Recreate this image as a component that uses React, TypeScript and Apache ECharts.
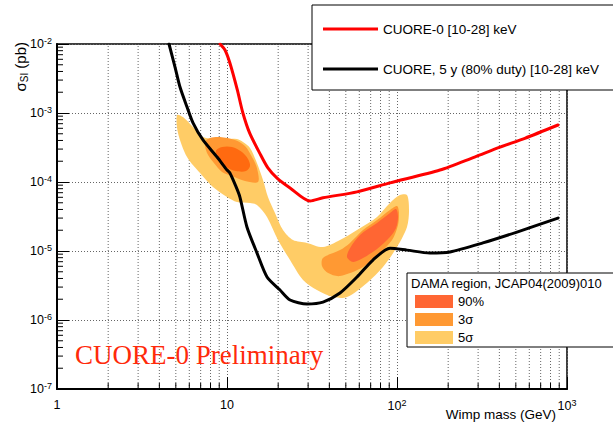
import { useEffect, useRef } from 'react';
import * as echarts from 'echarts';

// Axis ranges
const xMin = 1;
const xMax = 1000;
const yMin = 1e-7;
const yMax = 1e-2;

// CUORE-0 [10-28] keV (red)
const redMass = [9.1, 9.73, 10.4, 11.5, 12.4, 13.6, 15.6, 17.4, 19.7, 23.5, 30.8, 36.7, 58.2, 91, 179, 286, 404, 565, 885];
const redSigma = [1e-2, 8.2e-3, 5.3e-3, 2.16e-3, 1e-3, 5.1e-4, 2.6e-4, 1.6e-4, 1.14e-4, 8.2e-5, 5.3e-5, 5.9e-5, 7.2e-5, 9.7e-5, 1.49e-4, 2.3e-4, 3.2e-4, 4.3e-4, 6.7e-4];

// CUORE 5 y (black)
const blackMass = [4.56, 4.95, 5.29, 5.82, 6.31, 7.22, 8.74, 10, 10.4, 11.2, 11.9, 13.1, 15.0, 17.2, 20.5, 23.5, 29.6, 36.7, 46.2, 58.2, 72.2, 91, 114.5, 156, 205, 320, 508, 885];
const blackSigma = [1e-2, 4.6e-3, 2.38e-3, 1.22e-3, 7.2e-4, 4.07e-4, 2.3e-4, 1.49e-4, 1.35e-4, 9e-5, 6.1e-5, 2.23e-5, 9.4e-6, 4.2e-6, 2.72e-6, 1.95e-6, 1.71e-6, 1.82e-6, 2.46e-6, 4.2e-6, 7.4e-6, 1.1e-5, 1.03e-5, 9.35e-6, 9.7e-6, 1.31e-5, 1.88e-5, 3.0e-5];

// DAMA regions (mass GeV, sigma pb) contour vertices
const dama5sigma: number[][] = [
  [5.08, 9.35e-4], [5.51, 8.75e-4], [6.31, 6.27e-4], [7.22, 4.49e-4], [8.73, 4.2e-4], [11.45, 4.2e-4],
  [12.42, 3.8e-4], [13.66, 3.11e-4], [15.0, 1.88e-4], [16.28, 1.07e-4], [17.42, 6.07e-5], [19.16, 3.56e-5],
  [21.35, 2.01e-5], [24.45, 1.44e-5], [29.55, 1.31e-5], [36.7, 1.14e-5], [46.2, 1.44e-5], [58.2, 2.01e-5],
  [76.3, 3.11e-5], [90.9, 4.96e-5], [104, 6.48e-5], [114.5, 6.48e-5], [117.7, 3.93e-5], [114.5, 2.23e-5],
  [100, 1.14e-5], [82.7, 5.86e-6], [66.6, 3.44e-6], [50.8, 2.15e-6], [42.0, 2.15e-6], [33.8, 2.72e-6],
  [28.0, 3.8e-6], [23.48, 7.4e-6], [19.95, 1.44e-5], [17.19, 3.11e-5], [15.0, 4.64e-5], [13.66, 4.96e-5],
  [11.45, 5.13e-5], [10, 6.07e-5], [8.27, 8.47e-5], [6.94, 1.35e-4], [5.82, 2.3e-4], [5.15, 5.13e-4],
];
const dama3sigmaLow: number[][] = [
  [7.42, 3.8e-4], [7.94, 4.34e-4], [9.1, 4.49e-4], [11.14, 4.06e-4], [12.76, 3.32e-4], [14.03, 2.3e-4],
  [15.0, 1.6e-4], [15.22, 1.0e-4], [12.76, 1.03e-4], [10.7, 1.22e-4], [9.35, 1.4e-4], [8.38, 1.88e-4], [7.63, 2.63e-4],
];
const dama3sigmaHigh: number[][] = [
  [36.7, 7.92e-6], [46.2, 1.03e-5], [52.9, 1.31e-5], [63.1, 2.01e-5], [76.3, 2.81e-5], [90.9, 3.93e-5],
  [100, 4.49e-5], [102.7, 3.67e-5], [101.4, 2.38e-5], [93.5, 1.44e-5], [79.4, 9.35e-6], [63.1, 5.86e-6],
  [46.2, 4.34e-6], [39.3, 4.8e-6], [36.2, 6.07e-6],
];
const dama90Low: number[][] = [
  [8.61, 2.81e-4], [9.35, 3.21e-4], [10.7, 3.21e-4], [12.25, 2.72e-4], [13.29, 2.16e-4], [13.66, 1.71e-4],
  [12.93, 1.44e-4], [11.29, 1.44e-4], [9.86, 1.65e-4], [8.97, 2.01e-4],
];
const dama90High: number[][] = [
  [50.8, 8.18e-6], [52.9, 1.1e-5], [60.6, 1.71e-5], [76.3, 2.55e-5], [90.9, 3.56e-5], [98.7, 4.06e-5],
  [101.4, 3.11e-5], [98.7, 2.16e-5], [90.9, 1.6e-5], [76.3, 1.07e-5], [63.1, 7.92e-6], [55.1, 6.93e-6],
];

const nameRed = 'CUORE-0 [10-28] keV';
const nameBlack = 'CUORE, 5 y (80% duty) [10-28] keV';
const damaNames = ['90%', '3σ', '5σ'];
const damaColors = ['#FF6633', '#FF9933', '#FFCC66'];

const FONT = 'Liberation Sans, Arial, Helvetica, sans-serif';

function minorValues(lo: number, hi: number): number[] {
  const out: number[] = [];
  for (let d = lo; d < hi; d *= 10) {
    for (let k = 2; k <= 9; k++) out.push(Math.round(k * d * 1e12) / 1e12);
  }
  return out;
}

function polygonSeries(name: string, pts: number[][], color: string) {
  return {
    type: 'custom',
    name,
    coordinateSystem: 'cartesian2d',
    silent: true,
    itemStyle: { color },
    data: pts,
    renderItem: (params: any, api: any) => {
      if (params.dataIndex !== 0) return null;
      const points = pts.map((p) => api.coord(p));
      return {
        type: 'polygon',
        shape: { points, smooth: 0.3 },
        style: { fill: color, stroke: null },
      };
    },
    z: 1,
  };
}

export default function App() {
  const ref = useRef<HTMLDivElement>(null);
  useEffect(() => {
    if (!ref.current) return;
    const chart = echarts.init(ref.current, undefined, { renderer: 'svg' });
    const xMinor = minorValues(xMin, xMax);
    const yMinor = minorValues(yMin, yMax);
    const supFmt = (v: number) => {
      const e = Math.round(Math.log10(v));
      if (e === 0) return '1';
      if (e === 1) return '10';
      return `{b|10}{s|${e}}`;
    };
    const rich = {
      b: { fontSize: 12.5, fontFamily: FONT, color: '#000', lineHeight: 16 },
      s: { fontSize: 9, fontFamily: FONT, color: '#000', verticalAlign: 'top', lineHeight: 10 },
    };
    const gridStyle = { color: '#666', width: 1, type: [1, 2] };
    const option: any = {
      animation: false,
      backgroundColor: '#fff',
      grid: { left: 57, top: 44, right: 46, bottom: 34, show: true, borderColor: '#000', borderWidth: 1.5 },
      xAxis: {
        type: 'log',
        logBase: 10,
        min: xMin,
        max: xMax,
        axisLine: { show: true, lineStyle: { color: '#000', width: 2 } },
        axisTick: { show: true, inside: true, length: 12, lineStyle: { color: '#000', width: 1 } },
        axisLabel: { formatter: supFmt, rich, fontSize: 12.5, fontFamily: FONT, color: '#000', margin: 9 },
        splitLine: { show: true, lineStyle: gridStyle },
      },
      yAxis: {
        type: 'log',
        logBase: 10,
        min: yMin,
        max: yMax,
        axisLine: { show: true, lineStyle: { color: '#000', width: 2 } },
        axisTick: { show: true, inside: true, length: 12, lineStyle: { color: '#000', width: 1 } },
        axisLabel: {
          formatter: (v: number) => `{b|10}{s|${Math.round(Math.log10(v))}}`,
          rich,
          fontSize: 12.5,
          fontFamily: FONT,
          color: '#000',
          margin: 5,
        },
        splitLine: { show: true, lineStyle: gridStyle },
      },
      legend: [
        {
          data: [nameRed, nameBlack],
          orient: 'vertical',
          left: 312,
          top: 5,
          icon: 'rect',
          itemWidth: 55,
          itemHeight: 3,
          itemGap: 24,
          padding: [16, 60, 13, 11],
          borderColor: '#000',
          borderWidth: 1,
          backgroundColor: '#fff',
          selectedMode: false,
          textStyle: { fontSize: 13.5, fontFamily: FONT, color: '#000', lineHeight: 16 },
        },
        {
          data: damaNames.map((n, i) => ({ name: n, itemStyle: { color: damaColors[i] } })),
          orient: 'vertical',
          left: 407,
          top: 273,
          icon: 'rect',
          itemWidth: 38,
          itemHeight: 13,
          itemGap: 5,
          padding: [22, 140, 3, 8],
          borderColor: '#000',
          borderWidth: 1,
          backgroundColor: '#fff',
          selectedMode: false,
          textStyle: { fontSize: 13, fontFamily: FONT, color: '#000', lineHeight: 13 },
        },
      ],
      graphic: [
        {
          type: 'text',
          z: 100,
          x: 411,
          y: 283,
          style: { text: 'DAMA region, JCAP04(2009)010', fontSize: 13, fontFamily: FONT, fill: '#000', verticalAlign: 'middle' },
        },
        {
          type: 'text',
          z: 100,
          x: 75,
          y: 355,
          style: { text: 'CUORE-0 Preliminary', fontSize: 27, fontFamily: 'Liberation Serif, Times New Roman, serif', fill: '#FF2A0A', verticalAlign: 'middle' },
        },
        {
          type: 'text',
          z: 100,
          x: 556,
          y: 414,
          style: { text: 'Wimp mass (GeV)', fontSize: 13.5, fontFamily: FONT, fill: '#000', align: 'right', verticalAlign: 'middle' },
        },
        {
          type: 'text',
          z: 100,
          x: 20,
          y: 42,
          rotation: Math.PI / 2,
          style: {
            text: '{a|σ}{c|SI}{a| (pb)}',
            align: 'right',
            verticalAlign: 'middle',
            rich: {
              a: { fontSize: 15, fontFamily: FONT, fill: '#000', color: '#000', lineHeight: 18 },
              c: { fontSize: 10, fontFamily: FONT, fill: '#000', color: '#000', verticalAlign: 'bottom', lineHeight: 18 },
            },
          },
        },
      ],
      series: [
        {
          type: 'custom',
          name: 'xminor',
          coordinateSystem: 'cartesian2d',
          silent: true,
          data: xMinor.map((v) => [v, yMin]),
          renderItem: (params: any, api: any) => {
            const v = api.value(0);
            const b = api.coord([v, yMin]);
            const t = api.coord([v, yMax]);
            return {
              type: 'group',
              children: [
                { type: 'line', shape: { x1: b[0], y1: b[1], x2: t[0], y2: t[1] }, style: { stroke: '#666', lineWidth: 1, lineDash: [1, 2] } },
                { type: 'line', shape: { x1: b[0], y1: b[1], x2: b[0], y2: b[1] - 6 }, style: { stroke: '#000', lineWidth: 1 } },
              ],
            };
          },
          z: 0,
        },
        {
          type: 'custom',
          name: 'yminor',
          coordinateSystem: 'cartesian2d',
          silent: true,
          data: yMinor.map((v) => [xMin, v]),
          renderItem: (params: any, api: any) => {
            const v = api.value(1);
            const p = api.coord([xMin, v]);
            return { type: 'line', shape: { x1: p[0], y1: p[1], x2: p[0] + 6, y2: p[1] }, style: { stroke: '#000', lineWidth: 1 } };
          },
          z: 0,
        },
        polygonSeries('5σ', dama5sigma, damaColors[2]),
        polygonSeries('3σ', dama3sigmaLow, damaColors[1]),
        polygonSeries('3σ', dama3sigmaHigh, damaColors[1]),
        polygonSeries('90%', dama90Low, '#FF6A10'),
        polygonSeries('90%', dama90High, damaColors[0]),
        {
          type: 'line',
          name: nameRed,
          color: '#FF0000',
          data: redMass.map((m, i) => [m, redSigma[i]]),
          showSymbol: false,
          symbol: 'none',
          smooth: 0.25,
          lineStyle: { color: '#FF0000', width: 3, join: 'round', cap: 'round' },
          itemStyle: { color: '#FF0000' },
          z: 5,
        },
        {
          type: 'line',
          name: nameBlack,
          color: '#000000',
          data: blackMass.map((m, i) => [m, blackSigma[i]]),
          showSymbol: false,
          symbol: 'none',
          smooth: 0.25,
          lineStyle: { color: '#000000', width: 3, join: 'round', cap: 'round' },
          itemStyle: { color: '#000000' },
          z: 5,
        },
      ],
    };
    chart.setOption(option);
    return () => chart.dispose();
  }, []);
  return <div ref={ref} style={{ position: 'fixed', left: 0, top: 0, width: 613, height: 423 }} />;
}
